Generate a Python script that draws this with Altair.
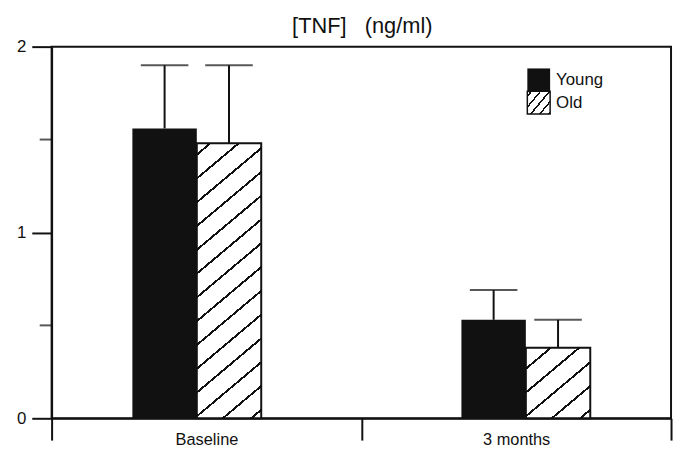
import altair as alt
import pandas as pd

# ---- data ----
categories = ["Baseline", "3 months"]
groups = ["Young", "Old"]
young_mean = [1.56, 0.53]
young_upper = [1.90, 0.69]
old_mean = [1.48, 0.38]
old_upper = [1.90, 0.53]
major_ticks = [0, 1, 2]
minor_ticks = [0.5, 1.5]
title_parts = ["[TNF]", "(ng/ml)"]

rows = []
for i, c in enumerate(categories):
    rows.append({"category": c, "group": "Young", "mean": young_mean[i], "upper": young_upper[i]})
    rows.append({"category": c, "group": "Old", "mean": old_mean[i], "upper": old_upper[i]})
df = pd.DataFrame(rows)
minor_df = pd.DataFrame({"v": minor_ticks})

# ---- layout ----
W, H = 625, 375
YMAX = 2.0
BAR_W = 65.0
GROUP_STEP = 332.0
BAR_RANGE = [W / 2 - GROUP_STEP, W / 2 + GROUP_STEP]
XO_RANGE = [GROUP_STEP / 2 - BAR_W, GROUP_STEP / 2 + BAR_W]
FONT = "Liberation Sans"
INK = "#111111"


def hatch(h, w=BAR_W, spacing=24.0, thick=2.6, tan=0.84, phase=22.0):
    """Linear-gradient stripes giving '/' hatching at a fixed pixel spacing."""
    C = tan * w + h
    k = C / (tan ** 2 * w ** 2 + h ** 2)
    x2, y2 = k * tan * w, k * h
    centers = []
    n = -5
    while True:
        c = h + phase - n * spacing
        if c < -thick:
            break
        if -thick < c < C + thick:
            centers.append(c)
        n += 1
    centers.sort()
    stops = [alt.GradientStop(offset=0, color="white")]
    for c in centers:
        a = min(max((c - thick / 2) / C, 0), 1)
        b = min(max((c + thick / 2) / C, 0), 1)
        stops += [
            alt.GradientStop(offset=a, color="white"),
            alt.GradientStop(offset=a, color=INK),
            alt.GradientStop(offset=b, color=INK),
            alt.GradientStop(offset=b, color="white"),
        ]
    stops.append(alt.GradientStop(offset=1, color="white"))
    return alt.LinearGradient(gradient="linear", stops=stops, x1=0, y1=0, x2=x2, y2=y2)


# axis-carrying band scale (ticks at band edges)
x_axis_enc = alt.X(
    "category:N",
    sort=categories,
    scale=alt.Scale(domain=categories, paddingInner=0, paddingOuter=0),
    axis=alt.Axis(
        title=None, tickBand="extent", labelAngle=0, tickSize=22, labelPadding=-9,
        labelFontSize=16.5, labelFont=FONT,
    ),
)
# bar placement band scale
x_enc = alt.X(
    "category:N",
    sort=categories,
    scale=alt.Scale(domain=categories, range=BAR_RANGE, paddingInner=0, paddingOuter=0),
    axis=None,
)
xo_enc = alt.XOffset(
    "group:N", sort=groups,
    scale=alt.Scale(domain=groups, range=XO_RANGE, paddingInner=0, paddingOuter=0),
)
y_enc = alt.Y(
    "mean:Q",
    scale=alt.Scale(domain=[0, YMAX], nice=False),
    axis=alt.Axis(
        title=None, values=major_ticks, format="~g", tickSize=20,
        labelPadding=6, labelFontSize=17, labelFont=FONT,
    ),
)

base = alt.Chart(df)

axis_layer = base.mark_bar(opacity=0).encode(x=x_axis_enc, y=y_enc)

young = base.transform_filter("datum.group === 'Young'").mark_bar(color=INK).encode(
    x=x_enc, xOffset=xo_enc, y=y_enc
)

old_layers = []
for i, c in enumerate(categories):
    h_px = old_mean[i] / YMAX * H
    old_layers.append(
        base.transform_filter(f"datum.group === 'Old' && datum.category === '{c}'")
        .mark_bar(fill=hatch(h_px), stroke=INK, strokeWidth=2)
        .encode(x=x_enc, xOffset=xo_enc, y=y_enc)
    )

whisker = base.mark_rule(color=INK, strokeWidth=2).encode(
    x=x_enc, xOffset=xo_enc, y=y_enc, y2="upper:Q"
)
caps = base.mark_tick(color=INK, size=48, thickness=2).encode(
    x=x_enc, xOffset=xo_enc, y=alt.Y("upper:Q")
)

# minor (unlabelled) y ticks at 0.5 and 1.5
minor = alt.Chart(minor_df).mark_tick(
    color=INK, orient="horizontal", size=12, thickness=2, clip=False
).encode(x=alt.value(-6), y=alt.Y("v:Q"))

# ---- title as text ----
title_df = pd.DataFrame({"t": ["\u00a0\u00a0\u00a0".join(title_parts)]})
title = alt.Chart(title_df).mark_text(
    align="center", baseline="alphabetic", font=FONT, fontSize=22, color=INK
).encode(x=alt.value(W / 2 + 1), y=alt.value(-14), text="t:N")

# ---- legend (drawn by hand so the hatch shows) ----
leg_df = pd.DataFrame({"label": groups})
LX, LY, LS = 480, 22, 23
leg_young = alt.Chart(leg_df).transform_filter("datum.label === 'Young'").mark_rect(color=INK).encode(
    x=alt.value(LX), x2=alt.value(LX + LS), y=alt.value(LY), y2=alt.value(LY + LS)
)
leg_old = alt.Chart(leg_df).transform_filter("datum.label === 'Old'").mark_rect(
    fill=hatch(LS, w=LS, spacing=11, thick=2.4, tan=1.2, phase=4), stroke=INK, strokeWidth=1.5
).encode(
    x=alt.value(LX), x2=alt.value(LX + LS), y=alt.value(LY + LS), y2=alt.value(LY + 2 * LS)
)
leg_texts = []
for j, g in enumerate(groups):
    leg_texts.append(
        alt.Chart(leg_df).transform_filter(f"datum.label === '{g}'").mark_text(
            align="left", baseline="middle", font=FONT, fontSize=17, color=INK
        ).encode(
            x=alt.value(LX + LS + 6),
            y=alt.value(LY + LS / 2 + j * LS),
            text="label:N",
        )
    )

chart = (
    alt.layer(axis_layer, young, *old_layers, whisker, caps, minor, title, leg_young, leg_old, *leg_texts)
    .resolve_scale(x="independent")
    .properties(
        width=W,
        height=H,
        autosize=alt.AutoSizeParams(type="none"),
        padding={"left": 44, "top": 37, "right": 4, "bottom": 30},
    )
    .configure_view(stroke=INK, strokeWidth=2)
    .configure_axis(
        domainColor=INK, domainWidth=2, tickColor=INK, tickWidth=2, labelColor=INK, grid=False
    )
)

chart.save("out.html", embed_options={"renderer": "svg", "actions": False})
